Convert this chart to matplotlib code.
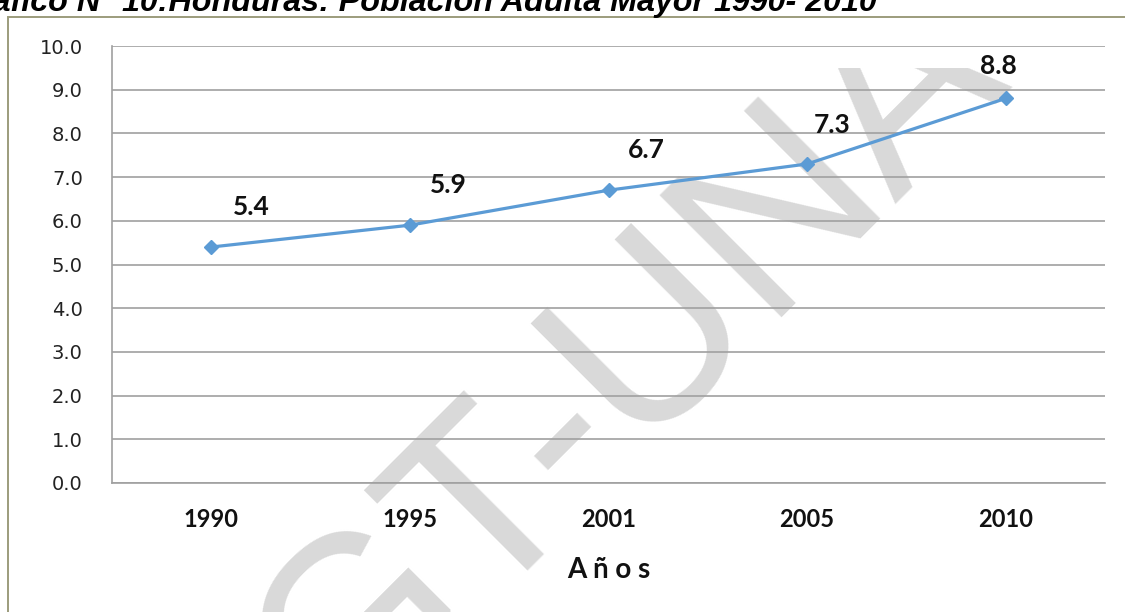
import matplotlib.pyplot as plt
import matplotlib.patches as mpatches
from matplotlib.transforms import Bbox, TransformedBbox

# Data
years = ['1990', '1995', '2001', '2005', '2010']
values = [5.4, 5.9, 6.7, 7.3, 8.8]
y_ticks = [0, 1, 2, 3, 4, 5, 6, 7, 8, 9, 10]

title = 'Gráfico N° 10:Honduras: Población Adulta Mayor 1990- 2010'
x_label = 'A ñ o s'
watermark = 'GT-UNA'

# label offsets in points (dx, dy)
label_offsets = [(29, 29), (28, 29), (27, 29), (18, 28), (-5, 23)]

W, H = 1125, 612
fig = plt.figure(figsize=(W / 100, H / 100), dpi=100)
ax = fig.add_axes([112 / W, (H - 483) / H, (1105 - 112) / W, (483 - 46) / H])

x = list(range(len(years)))
ax.plot(x, values, color='#5b9bd5', linewidth=2.3, marker='D', markersize=7,
        zorder=3)

for xi, v, (dx, dy) in zip(x, values, label_offsets):
    ax.annotate(f'{v:.1f}', (xi, v), xytext=(dx, dy), textcoords='offset points',
                ha='center', va='center', fontsize=19, fontweight='bold',
                family='Lato', color='#111111', zorder=4)

ax.set_xlim(-0.5, len(years) - 0.5)
ax.set_ylim(0, 10)
ax.set_yticks(y_ticks)
ax.set_yticklabels([f'{t:.1f}' for t in y_ticks], fontsize=14,
                   family='DejaVu Sans', color='#222222')
ax.set_xticks(x)
ax.set_xticklabels(years, fontsize=17, fontweight='bold', family='Lato',
                   color='#111111')
ax.tick_params(axis='y', length=0, pad=21)
ax.tick_params(axis='x', length=0, pad=18)

ax.set_axisbelow(True)
ax.grid(axis='y', color='#a0a0a0', linewidth=1.2)
for side in ['top', 'right']:
    ax.spines[side].set_visible(False)
ax.spines['left'].set_color('#a0a0a0')
ax.spines['bottom'].set_color('#a0a0a0')
ax.spines['left'].set_linewidth(1.2)
ax.spines['bottom'].set_linewidth(1.2)

ax.set_xlabel(x_label, fontsize=20, fontweight='bold', family='Lato',
              color='#111111', labelpad=19)

# watermark, clipped just under the title
wm = ax.text(676 / W, 1 - 411 / H, watermark, transform=fig.transFigure,
             fontsize=180, family='Liberation Sans', color='#d9d9d9',
             rotation=45, rotation_mode='anchor', ha='center', va='baseline',
             zorder=0.3)
wm.set_clip_box(TransformedBbox(Bbox([[0, 0], [1, 1 - 68 / H]]),
                                fig.transFigure))
wm.set_clip_on(True)

# outer chart frame (cut by the page)
frame = mpatches.Rectangle((7.5 / W, -0.2), 1.2, 1 - 17 / H + 0.2,
                           transform=fig.transFigure, fill=False,
                           edgecolor='#9c9c7c', linewidth=1.4)
fig.patches.append(frame)

# title, cut at the top left of the page
fig.text(877 / W, 1 - 11 / H, title, ha='right', va='baseline',
         fontsize=23.2, fontweight='bold', fontstyle='italic',
         family='Liberation Sans', color='black')

fig.savefig('out.png', dpi=100)
